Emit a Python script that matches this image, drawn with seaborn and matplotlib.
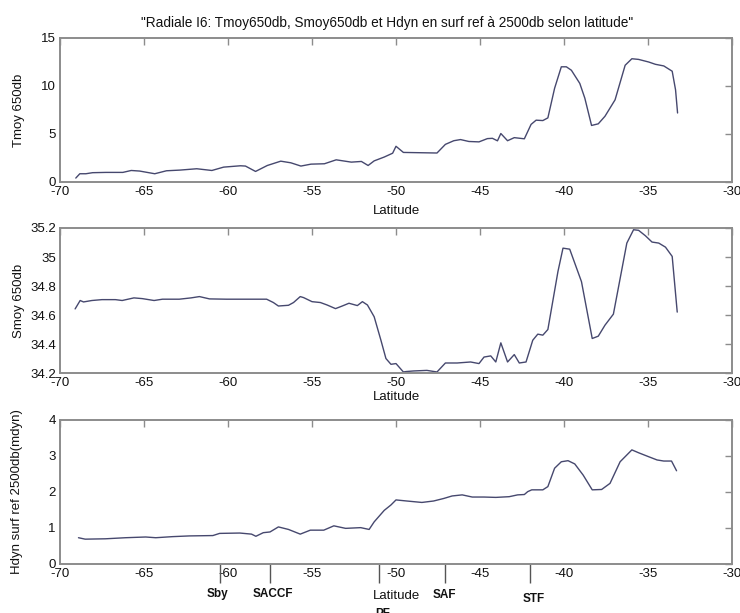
import matplotlib
matplotlib.use("Agg")
import matplotlib.pyplot as plt
from matplotlib import font_manager
import seaborn as sns
import numpy as np

# ---- section I6: mean values at 650 dbar and dynamic height, versus latitude ----
lat_T = [-69.06, -68.82, -68.46, -68.06, -67.26, -66.26, -65.76, -65.26, -64.36, -63.66,
         -62.86, -61.86, -60.96, -60.26, -59.26, -58.96, -58.36, -57.66, -56.86, -56.26,
         -55.66, -55.06, -54.26, -53.56, -52.66, -52.06, -51.66, -51.3, -50.7, -50.2,
         -50.0, -49.56, -47.56, -47.06, -46.56, -46.16, -45.66, -45.06, -44.56, -44.26,
         -43.96, -43.76, -43.36, -42.96, -42.36, -41.96, -41.66, -41.26, -40.96, -40.56,
         -40.16, -39.86, -39.56, -39.06, -38.76, -38.36, -37.96, -37.56, -36.96, -36.36,
         -35.96, -35.56, -34.96, -34.56, -34.06, -33.56, -33.36, -33.24]
tmoy = [0.41, 0.86, 0.86, 0.97, 1.0, 1.0, 1.2, 1.14, 0.86, 1.17,
        1.24, 1.38, 1.2, 1.55, 1.69, 1.66, 1.1, 1.72, 2.17, 2.0,
        1.66, 1.86, 1.9, 2.31, 2.07, 2.14, 1.72, 2.2, 2.6, 3.0,
        3.72, 3.08, 3.02, 3.92, 4.3, 4.42, 4.22, 4.18, 4.52, 4.55,
        4.29, 5.05, 4.3, 4.62, 4.5, 6.0, 6.44, 6.4, 6.68, 9.76,
        12.0, 12.0, 11.64, 10.27, 8.73, 5.89, 6.06, 6.85, 8.56, 12.16,
        12.84, 12.77, 12.5, 12.26, 12.09, 11.54, 9.6, 7.19]

lat_S = [-69.1, -68.8, -68.6, -68.1, -67.5, -66.7, -66.3, -65.6, -65.1, -64.4,
         -63.9, -62.9, -62.2, -61.7, -61.1, -60.1, -57.7, -57.3, -57.0, -56.4,
         -56.1, -55.7, -55.5, -55.0, -54.5, -54.1, -53.6, -53.2, -52.8, -52.3,
         -52.0, -51.7, -51.3, -50.9, -50.6, -50.3, -50.0, -49.56, -49.4, -48.96,
         -48.16, -47.56, -47.06, -46.36, -45.56, -45.06, -44.76, -44.36, -44.06, -43.76,
         -43.36, -42.96, -42.66, -42.26, -41.86, -41.56, -41.26, -40.96, -40.36, -40.06,
         -39.66, -38.96, -38.32, -37.96, -37.56, -37.06, -36.26, -35.86, -35.56, -35.16,
         -34.76, -34.36, -33.96, -33.56, -33.26]
smoy = [34.642, 34.70, 34.69, 34.70, 34.706, 34.706, 34.70, 34.718, 34.713, 34.70,
        34.709, 34.709, 34.718, 34.727, 34.711, 34.709, 34.709, 34.686, 34.662, 34.667,
        34.686, 34.727, 34.72, 34.692, 34.686, 34.669, 34.644, 34.662, 34.681, 34.665,
        34.692, 34.669, 34.588, 34.427, 34.30, 34.26, 34.265, 34.207, 34.21, 34.214,
        34.218, 34.207, 34.269, 34.269, 34.276, 34.265, 34.31, 34.318, 34.276, 34.408,
        34.276, 34.327, 34.269, 34.276, 34.426, 34.468, 34.461, 34.50, 34.90, 35.061,
        35.054, 34.83, 34.438, 34.454, 34.53, 34.606, 35.096, 35.188, 35.184, 35.147,
        35.103, 35.096, 35.068, 35.004, 34.62]

lat_H = [-68.9, -68.5, -67.3, -66.1, -64.9, -64.3, -63.3, -62.3, -60.9, -60.5,
         -59.3, -58.6, -58.34, -57.9, -57.5, -57.0, -56.4, -55.7, -55.1, -54.3,
         -53.7, -53.0, -52.1, -51.6, -51.3, -50.7, -50.3, -50.0, -49.36, -48.46,
         -47.76, -47.16, -46.66, -46.06, -45.46, -44.76, -44.06, -43.26, -42.76, -42.36,
         -42.16, -41.92, -41.26, -40.96, -40.56, -40.16, -39.76, -39.36, -38.86, -38.32,
         -37.76, -37.26, -36.66, -35.96, -35.56, -34.96, -34.46, -34.06, -33.6, -33.3]
hdyn = [0.73, 0.69, 0.70, 0.73, 0.75, 0.73, 0.76, 0.78, 0.79, 0.85,
        0.86, 0.83, 0.77, 0.87, 0.89, 1.03, 0.96, 0.83, 0.94, 0.94,
        1.06, 0.99, 1.01, 0.96, 1.17, 1.49, 1.64, 1.78, 1.75, 1.71,
        1.75, 1.82, 1.89, 1.92, 1.86, 1.86, 1.85, 1.87, 1.92, 1.93,
        2.01, 2.06, 2.06, 2.15, 2.66, 2.84, 2.87, 2.78, 2.47, 2.06,
        2.07, 2.24, 2.84, 3.17, 3.09, 2.98, 2.89, 2.86, 2.86, 2.59]

# oceanic fronts crossed by the section
front_names = ["Sby", "SACCF", "PF", "SAF", "STF"]
front_lat = [-60.5, -57.5, -51.0, -47.1, -42.0]
front_label_x = [-60.6, -57.3, -50.8, -47.1, -41.8]
front_label_y = [-0.82, -0.82, -1.40, -0.86, -0.97]

x_ticks = [-70, -65, -60, -55, -50, -45, -40, -35, -30]
t_ticks = [0, 5, 10, 15]
s_ticks = [34.2, 34.4, 34.6, 34.8, 35.0, 35.2]
s_tick_labels = ["34.2", "34.4", "34.6", "34.8", "35", "35.2"]
h_ticks = [0, 1, 2, 3, 4]

title = "\"Radiale I6: Tmoy650db, Smoy650db et Hdyn en surf ref à 2500db selon latitude\""

# ---- style ----
sns.set_style("white")
plt.rcParams["font.family"] = ["Liberation Sans", "DejaVu Sans"]
plt.rcParams["axes.unicode_minus"] = False
installed = {f.name for f in font_manager.fontManager.ttflist}
title_family = ["Liberation Sans Narrow"] if "Liberation Sans Narrow" in installed else ["Liberation Sans"]

LINE = "#46486e"
FRAME = "#8c8c8c"
TXT = "#111111"
FS = 9.5

fig = plt.figure(figsize=(7.40, 6.13), dpi=100)
W, H = 740.0, 613.0


def add_panel(top, bottom):
    left, right = 60.0, 732.0
    return fig.add_axes([left / W, 1 - bottom / H, (right - left) / W, (bottom - top) / H])


def style(ax, yt, ylabels=None):
    ax.set_xlim(-70, -30)
    ax.set_xticks(x_ticks)
    ax.set_xticklabels([str(v) for v in x_ticks])
    ax.set_yticks(yt)
    if ylabels is not None:
        ax.set_yticklabels(ylabels)
    ax.tick_params(direction="in", length=5, width=1.0, color=FRAME,
                   top=True, right=True, labelsize=FS, labelcolor=TXT, pad=3)
    for sp in ax.spines.values():
        sp.set_color(FRAME)
        sp.set_linewidth(1.4)
        sp.set_visible(True)
    ax.set_facecolor("white")


# temperature
ax1 = add_panel(38, 182)
sns.lineplot(x=lat_T, y=tmoy, ax=ax1, color=LINE, linewidth=1.0, estimator=None, sort=False)
ax1.set_ylim(0, 15)
style(ax1, t_ticks)
ax1.set_ylabel("Tmoy 650db", fontsize=FS, color=TXT)
ax1.set_xlabel("Latitude", fontsize=FS, color=TXT)
ax1.xaxis.set_label_coords(0.5, -0.16)
ax1.yaxis.set_label_coords(-0.052, 0.5)
ax1.set_title(title, fontsize=9.8, color=TXT, family=title_family, pad=8, x=0.487)

# salinity
ax2 = add_panel(228, 373)
sns.lineplot(x=lat_S, y=smoy, ax=ax2, color=LINE, linewidth=1.0, estimator=None, sort=False)
ax2.set_ylim(34.2, 35.2)
style(ax2, s_ticks, s_tick_labels)
ax2.set_ylabel("Smoy 650db", fontsize=FS, color=TXT)
ax2.set_xlabel("Latitude", fontsize=FS, color=TXT)
ax2.xaxis.set_label_coords(0.5, -0.125)
ax2.yaxis.set_label_coords(-0.052, 0.5)

# dynamic height
ax3 = add_panel(420, 564)
sns.lineplot(x=lat_H, y=hdyn, ax=ax3, color=LINE, linewidth=1.0, estimator=None, sort=False)
ax3.set_ylim(0, 4)
style(ax3, h_ticks)
ax3.set_ylabel("Hdyn surf ref 2500db(mdyn)", fontsize=FS, color=TXT)
ax3.set_xlabel("Latitude", fontsize=FS, color=TXT)
ax3.xaxis.set_label_coords(0.5, -0.18)
ax3.yaxis.set_label_coords(-0.055, 0.5)

# front positions marked below the latitude axis
ax3.vlines(front_lat, -0.53, 0, colors="#555555", linewidth=1.0, clip_on=False)
for name, fx, fy in zip(front_names, front_label_x, front_label_y):
    ax3.text(fx, fy, name, ha="center", va="center", fontsize=8.5,
             fontweight="bold", color=TXT, clip_on=False)

for ax in (ax1, ax2, ax3):
    ax.set_xlim(-70, -30)

fig.savefig("out.png", dpi=100, facecolor="white")
